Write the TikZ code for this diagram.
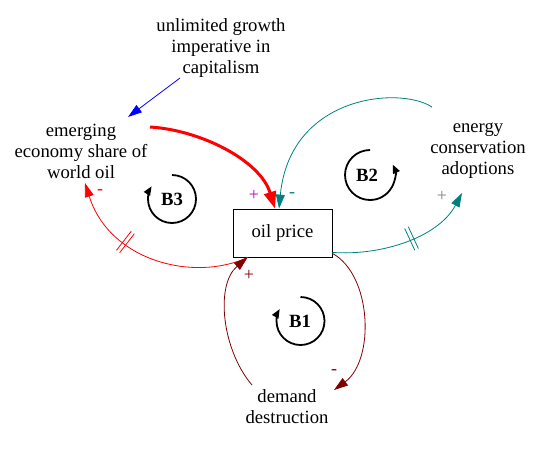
\documentclass[tikz,border=0pt]{standalone}
\usepackage{fontspec}
\setmainfont{Liberation Serif}
\usetikzlibrary{arrows.meta,calc,decorations.markings}
\definecolor{cteal}{RGB}{0,128,128}
\definecolor{cmaroon}{RGB}{128,0,0}
\definecolor{cmag}{RGB}{192,0,192}
\definecolor{cgrey}{RGB}{128,128,128}
\begin{document}
\begin{tikzpicture}[x=1pt,y=-1pt,
  lbl/.style={font=\fontsize{18.67}{21}\selectfont, align=center, inner sep=0pt},
  sgn/.style={font=\fontsize{18}{18}\selectfont, inner sep=0pt},
  conn/.style={line width=0.8pt, -{Triangle[length=14pt,width=9pt]}},
  thickconn/.style={line width=3pt, -{Triangle[length=17pt,width=12pt]}},
  loopsym/.style={line width=1.8pt, -{Triangle[length=9pt,width=7pt]}},
  loopname/.style={font=\bfseries\fontsize{18.67}{21}\selectfont, inner sep=0pt},
  hatch/.style={postaction={decorate, decoration={markings,
     mark=at position #1 with {\draw[-, line width=0.8pt] (-2,-12)--(-2,12) (2,-12)--(2,12);}}}}]
\useasboundingbox (0,0) rectangle (545,450);

% nodes
\node[lbl] (ugi) at (221,48) {unlimited growth\\imperative in\\capitalism};
\node[lbl] (eme) at (81,151) {emerging\\economy share of\\world oil};
\node[lbl] (eca) at (478,151) {energy\\conservation\\adoptions};
\node[lbl] (dd) at (287,407) {demand\\destruction};
\node[draw, line width=0.8pt, minimum width=99pt, minimum height=48pt, inner sep=0pt,
      font=\fontsize{18.67}{21}\selectfont] (oil) at (282.5,233) {oil price};

% connector ends
\coordinate (ugiS) at (180,78);
\coordinate (emeTip) at (128,117);
\coordinate (emeR) at (150,127);
\coordinate (emeB) at (85,183);
\coordinate (ecaT) at (432,107);
\coordinate (ecaB) at (462,193);
\coordinate (ddL) at (252,385);
\coordinate (ddR) at (334,390);
\coordinate (oilN1) at ($(oil.north)+(-7.5,0)$);
\coordinate (oilN2) at ($(oil.north)+(-3.5,0)$);
\coordinate (oilE1) at ($(oil.south east)+(0,-5)$);
\coordinate (oilE2) at ($(oil.south east)+(0,-4)$);
\coordinate (oilS) at ($(oil.south west)+(15,0)$);

% connectors
\draw[conn, blue] (ugiS) -- (emeTip);
\draw[thickconn, red] (emeR) .. controls (200,130) and (260,160) .. (oilN1);
\draw[conn, cteal] (ecaT) .. controls (400,86) and (290,95) .. (oilN2);
\draw[conn, cteal, hatch=0.54] (oilE1) .. controls (380,256) and (438,238) .. (ecaB);
\draw[conn, red, hatch=0.64] (oilS) .. controls (195,282) and (110,262) .. (emeB);
\draw[conn, cmaroon] (ddL) .. controls (222,350) and (215,285) .. (oilS);
\draw[conn, cmaroon] (oilE2) .. controls (372,275) and (375,360) .. (ddR);

% signs
\node[sgn, cmag] (s1) at (254,195) {+};
\node[sgn, cteal] (s2) at (292,195) {-};
\node[sgn, cgrey] (s3) at (442,196) {+};
\node[sgn, red] (s4) at (100,192) {-};
\node[sgn, cmaroon] (s5) at (249,275) {+};
\node[sgn, cmaroon] (s6) at (334,372) {-};

% loop symbols
\node[loopname] (b3) at (172,199) {B3};
\draw[loopsym] ($(b3)+(-90:24)$) arc[start angle=-90, end angle=212, radius=24];
\node[loopname] (b2) at (367,175) {B2};
\draw[loopsym] ($(b2)+(3,0)+(270:25)$) arc[start angle=270, end angle=-25, radius=25];
\node[loopname] (b1) at (300,321) {B1};
\draw[loopsym] ($(b1)+(0.5,0)+(-90:24)$) arc[start angle=-90, end angle=210, radius=24];
\end{tikzpicture}
\end{document}
